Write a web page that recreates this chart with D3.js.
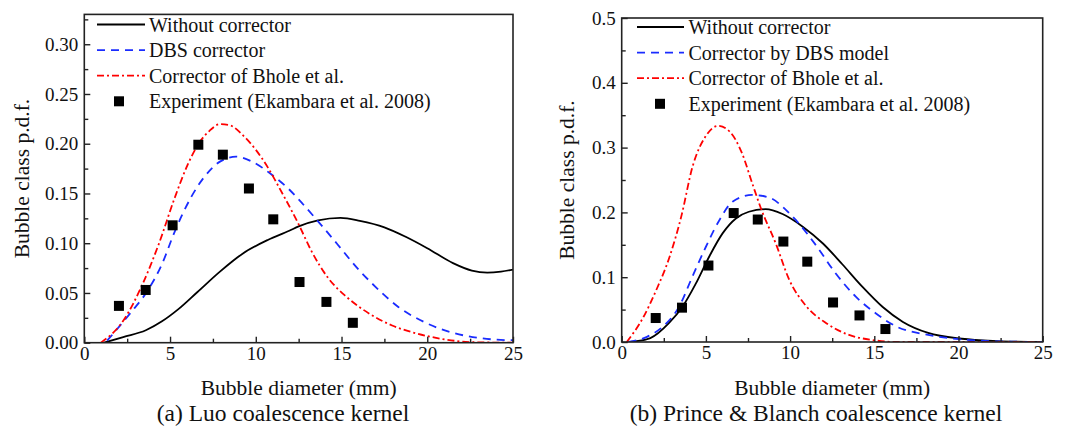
<!DOCTYPE html>
<html>
<head>
<meta charset="utf-8">
<script src="https://cdn.jsdelivr.net/npm/d3@7"></script>
<style>
  body { margin: 0; background: #fff; }
  svg text { font-family: "Liberation Serif", "Times New Roman", serif; fill: #111; }
</style>
</head>
<body>
<div id="chart"></div>
<script>
// experiment (same in both panels)
const expD = [2.02, 3.58, 5.15, 6.65, 8.08, 9.6, 11.02, 12.55, 14.12, 15.66];
const expPdf = [0.037, 0.053, 0.118, 0.199, 0.189, 0.155, 0.124, 0.061, 0.041, 0.020];

// (a) Luo kernel
const luoNoneD = [1.15, 2.27, 3.59, 4.53, 5.47, 6.6, 7.91, 9.23, 10.73, 11.95, 12.5, 13.63, 14.94, 16.07, 17.5, 18.8, 20.0, 21.5, 22.6, 23.5, 24.3, 25];
const luoNoneV = [0, 0.0057, 0.0125, 0.0215, 0.0335, 0.051, 0.0715, 0.0895, 0.1035, 0.1125, 0.117, 0.123, 0.1255, 0.1225, 0.116, 0.106, 0.095, 0.080, 0.0725, 0.0705, 0.0715, 0.0735];
const luoDbsD = [1.33, 2.65, 3.68, 4.53, 5.28, 6.22, 6.97, 7.91, 8.85, 9.79, 10.92, 11.95, 12.5, 13.63, 14.76, 15.88, 17.01, 18.33, 19.83, 21.33, 22.65, 24.06, 25];
const luoDbsV = [0.002, 0.029, 0.052, 0.079, 0.112, 0.146, 0.166, 0.182, 0.187, 0.182, 0.169, 0.154, 0.144, 0.122, 0.099, 0.0757, 0.0557, 0.0357, 0.0207, 0.0107, 0.0057, 0.003, 0.0025];
const luoBholeD = [0.97, 2.28, 3.4, 4.34, 5.28, 6.03, 6.69, 7.3, 7.91, 8.5, 9.22, 10.72, 11.37, 12.5, 13.25, 14.19, 15.32, 16.64, 17.95, 19.45, 21.15, 22.65, 25];
const luoBholeV = [0, 0.0223, 0.059, 0.099, 0.146, 0.179, 0.2007, 0.213, 0.2197, 0.2185, 0.209, 0.1757, 0.1557, 0.119, 0.092, 0.0657, 0.0457, 0.029, 0.0173, 0.009, 0.003, 0.0005, 0];

// (b) Prince & Blanch kernel
const pbNoneD = [0.5, 1.7, 2.8, 3.6, 4.4, 5.2, 6.0, 6.8, 7.55, 8.55, 9.55, 10.75, 11.95, 13.1, 14.3, 15.5, 16.7, 18.2, 20.2, 22.3, 25];
const pbNoneV = [0, 0.006, 0.029, 0.054, 0.090, 0.132, 0.168, 0.191, 0.201, 0.205, 0.1975, 0.178, 0.152, 0.120, 0.085, 0.054, 0.031, 0.014, 0.005, 0.0015, 0];
const pbDbsD = [0.4, 1.5, 2.45, 3.4, 4.2, 5.0, 5.8, 6.6, 7.75, 8.75, 9.75, 10.35, 11.6, 12.7, 13.9, 15.1, 16.3, 18.2, 20.2, 22.3, 25];
const pbDbsV = [0, 0.008, 0.024, 0.054, 0.101, 0.147, 0.188, 0.217, 0.227, 0.223, 0.204, 0.188, 0.147, 0.106, 0.070, 0.044, 0.024, 0.011, 0.004, 0.001, 0];
const pbBholeD = [0.3, 1.3, 2.05, 2.85, 3.55, 4.2, 5.0, 5.72, 6.4, 7.15, 7.75, 8.3, 9.15, 9.95, 11.0, 12.15, 13.5, 14.9, 16.3, 25];
const pbBholeV = [0, 0.039, 0.080, 0.132, 0.195, 0.270, 0.318, 0.3335, 0.325, 0.291, 0.245, 0.204, 0.152, 0.096, 0.054, 0.029, 0.011, 0.003, 0, 0];

const xTicks = [0, 5, 10, 15, 20, 25];
const luoYTicks = [0, 0.05, 0.10, 0.15, 0.20, 0.25, 0.30];
const pbYTicks = [0, 0.1, 0.2, 0.3, 0.4, 0.5];

const svg = d3.select('#chart')
    .append('svg')
    .attr('width', 1073)
    .attr('height', 430);

const styles = {
    none: { color: '#000', dash: null },
    dbs: { color: '#1a2cff', dash: '8,6' },
    bhole: { color: '#ff0000', dash: '7,3,2,3' }
};

function zip(xs, ys) {
    return xs.map((x, i) => [x, ys[i]]);
}

function drawPanel(p) {
    const x = d3.scaleLinear().domain([0, 25]).range([p.left, p.right]);
    const y = d3.scaleLinear().domain([0, p.yMax]).range([p.bottom, p.top]);

    const clipId = 'clip-' + p.id;
    svg.append('clipPath').attr('id', clipId)
        .append('rect')
        .attr('x', p.left).attr('y', p.top)
        .attr('width', p.right - p.left).attr('height', p.bottom - p.top);

    const line = d3.line()
        .x(d => x(d[0]))
        .y(d => y(d[1]))
        .curve(d3.curveMonotoneX);

    const plot = svg.append('g').attr('clip-path', `url(#${clipId})`);

    p.series.forEach(s => {
        plot.append('path')
            .datum(zip(s.d, s.v))
            .attr('d', line)
            .attr('fill', 'none')
            .attr('stroke', styles[s.key].color)
            .attr('stroke-width', 1.8)
            .attr('stroke-dasharray', styles[s.key].dash);
    });

    // experiment squares
    svg.append('g').selectAll('rect')
        .data(zip(expD, expPdf))
        .enter()
        .append('rect')
        .attr('x', d => x(d[0]) - 5)
        .attr('y', d => y(d[1]) - 5)
        .attr('width', 10)
        .attr('height', 10)
        .attr('fill', '#000');

    // minor ticks
    svg.append('g')
        .attr('transform', `translate(0,${p.bottom})`)
        .call(d3.axisBottom(x).tickValues(d3.range(2.5, 25, 5)).tickSize(-4).tickFormat(''))
        .call(g => g.select('.domain').remove());
    svg.append('g')
        .attr('transform', `translate(${p.left},0)`)
        .call(d3.axisLeft(y).tickValues(p.yMinor).tickSize(-4).tickFormat(''))
        .call(g => g.select('.domain').remove());

    // major ticks
    svg.append('g')
        .attr('transform', `translate(0,${p.bottom})`)
        .call(d3.axisBottom(x).tickValues(xTicks).tickSize(-6).tickPadding(4).tickFormat(d3.format('d')))
        .call(g => g.select('.domain').remove())
        .call(g => g.selectAll('text').style('font-size', '19px'));
    svg.append('g')
        .attr('transform', `translate(${p.left},0)`)
        .call(d3.axisLeft(y).tickValues(p.yTicks).tickSize(-6).tickPadding(6).tickFormat(d3.format(p.fmt)))
        .call(g => g.select('.domain').remove())
        .call(g => g.selectAll('text').style('font-size', '19px'));

    svg.selectAll('.tick line').attr('stroke', '#222').attr('stroke-width', 1.4);

    // frame
    svg.append('rect')
        .attr('x', p.left).attr('y', p.top)
        .attr('width', p.right - p.left).attr('height', p.bottom - p.top)
        .attr('fill', 'none')
        .attr('stroke', '#222')
        .attr('stroke-width', 1.6);

    // legend
    const lg = svg.append('g');
    p.legend.forEach((item, i) => {
        const ly = p.legY + i * 25.6;
        if (item.key === 'exp') {
            lg.append('rect')
                .attr('x', p.legMark - 5).attr('y', ly - 5)
                .attr('width', 10).attr('height', 10)
                .attr('fill', '#000');
        } else {
            lg.append('line')
                .attr('x1', p.legX0).attr('x2', p.legX1)
                .attr('y1', ly).attr('y2', ly)
                .attr('stroke', styles[item.key].color)
                .attr('stroke-width', 1.8)
                .attr('stroke-dasharray', styles[item.key].dash);
        }
        lg.append('text')
            .attr('x', p.legText)
            .attr('y', ly + 7)
            .style('font-size', '20px')
            .text(item.label);
    });

    // axis titles
    const cx = (p.left + p.right) / 2;
    svg.append('text')
        .attr('x', cx)
        .attr('y', 395)
        .attr('text-anchor', 'middle')
        .style('font-size', '21.5px')
        .text('Bubble diameter (mm)');

    svg.append('text')
        .attr('transform', `translate(${p.yLabelX},${(p.top + p.bottom) / 2}) rotate(-90)`)
        .attr('text-anchor', 'middle')
        .style('font-size', '21.5px')
        .text('Bubble class p.d.f.');

    svg.append('text')
        .attr('x', p.capX)
        .attr('y', 421)
        .attr('text-anchor', 'middle')
        .style('font-size', '23.5px')
        .text(p.caption);
}

drawPanel({
    id: 'a', left: 84.3, right: 513, top: 14.4, bottom: 342.7, yMax: 0.33,
    yTicks: luoYTicks, yMinor: d3.range(0.025, 0.33, 0.05), fmt: '.2f',
    series: [
        { key: 'none', d: luoNoneD, v: luoNoneV },
        { key: 'dbs', d: luoDbsD, v: luoDbsV },
        { key: 'bhole', d: luoBholeD, v: luoBholeV }
    ],
    legend: [
        { key: 'none', label: 'Without corrector' },
        { key: 'dbs', label: 'DBS corrector' },
        { key: 'bhole', label: 'Corrector of Bhole et al.' },
        { key: 'exp', label: 'Experiment (Ekambara et al. 2008)' }
    ],
    legY: 24.5, legX0: 97, legX1: 145, legText: 149, legMark: 119,
    yLabelX: 29, capX: 283,
    caption: '(a) Luo coalescence kernel'
});

drawPanel({
    id: 'b', left: 621.7, right: 1042.7, top: 18, bottom: 342, yMax: 0.5,
    yTicks: pbYTicks, yMinor: d3.range(0.05, 0.5, 0.1), fmt: '.1f',
    series: [
        { key: 'none', d: pbNoneD, v: pbNoneV },
        { key: 'dbs', d: pbDbsD, v: pbDbsV },
        { key: 'bhole', d: pbBholeD, v: pbBholeV }
    ],
    legend: [
        { key: 'none', label: 'Without corrector' },
        { key: 'dbs', label: 'Corrector by DBS model' },
        { key: 'bhole', label: 'Corrector of Bhole et al.' },
        { key: 'exp', label: 'Experiment (Ekambara et al. 2008)' }
    ],
    legY: 27, legX0: 637, legX1: 684, legText: 688.5, legMark: 660,
    yLabelX: 574, capX: 816,
    caption: '(b) Prince & Blanch coalescence kernel'
});
</script>
</body>
</html>
